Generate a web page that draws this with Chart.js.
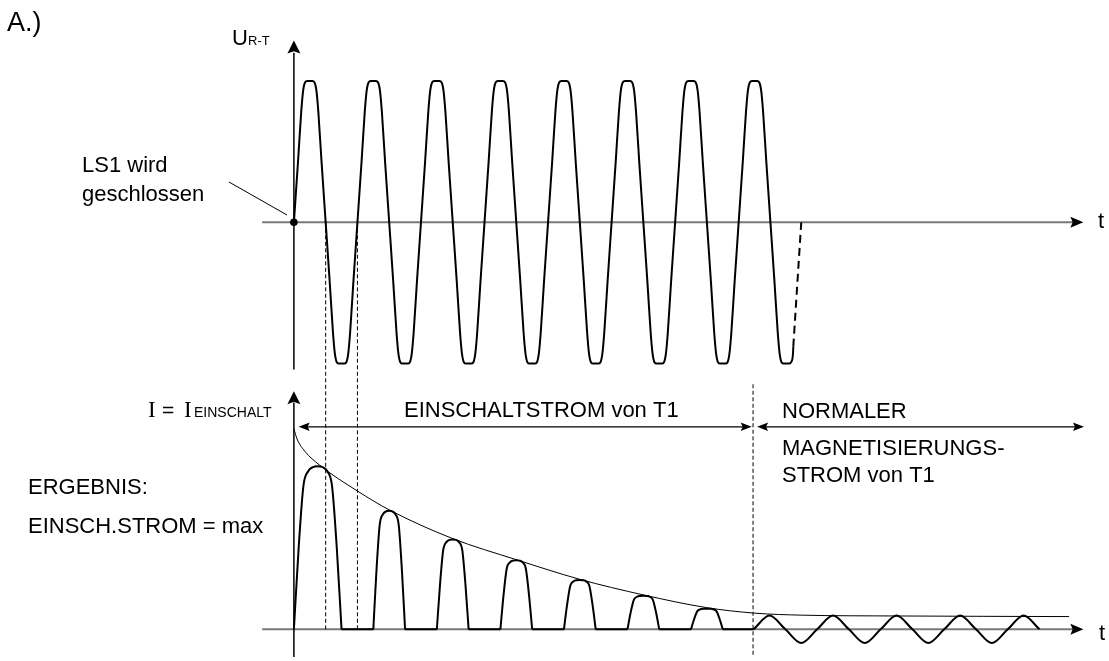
<!DOCTYPE html>
<html><head><meta charset="utf-8">
<script src="https://cdn.jsdelivr.net/npm/chart.js@4.4.1/dist/chart.umd.min.js"></script>
<style>html,body{margin:0;padding:0;background:#fff;overflow:hidden}#wrap{position:relative;width:1109px;height:661px}</style>
</head><body><div id="wrap"><canvas id="c" width="1109" height="661"></canvas></div>
<script>
// ================= data =================
// time in ms (one mains period = 20 ms), voltage in p.u., current in % of I_EINSCHALT

// upper trace U_R-T : zero crossings and sign/size of each half wave
const uZeroCrossings = [0, 10, 20, 30, 40, 50, 60, 70, 80, 90, 100, 110, 120, 130, 140, 150, 160];
const uHalfWavePeaks = [1, -1, 1, -1, 1, -1, 1, -1, 1, -1, 1, -1, 1, -1, 1, -1];
const uSolidEnd = 157.2;
const uTailT = [157.2, 159.7];          // dashed continuation
const uTailV = [-0.88, 0];
// flat-topped half wave as read from one period (ms after the crossing / level)
const waveRiseT = [0, 1.3, 2.3, 2.9, 3.5, 4.2];
const waveRiseLevel = [0, 0.43, 0.78, 0.93, 0.99, 1.0];

// lower trace: inrush current pulses
const pulseStart = [0, 25, 45, 65, 85, 105, 125];
const pulseEnd   = [15, 35, 55, 75, 95, 115, 135];
const pulsePeak  = [80.5, 58.5, 44.4, 34.1, 24.4, 16.6, 10.2];
const pulseShapeFrac  = [0, 0.1, 0.2, 0.3, 0.4, 0.5];
const pulseShapeLevel = [0, 0.5, 0.88, 0.97, 0.995, 1.0];

// decaying envelope
const envelopeT = [0, 1, 3.4, 8, 20, 30, 50, 70, 90, 110, 130, 145, 160, 190, 244];
const envelopeI = [99, 94, 88, 81.2, 68.3, 59, 44.8, 34.4, 24.7, 17, 10.7, 8.0, 7.0, 6.6, 6.3];

// normal magnetising current after the inrush
const magT = [144.7, 149.7, 154.7, 159.7, 164.7, 169.7, 174.7, 179.7, 184.7, 189.7,
              194.7, 199.7, 204.7, 209.7, 214.7, 219.7, 224.7, 229.7, 234.7];
const magI = [0, 6.8, 0, -6.8, 0, 6.8, 0, -6.8, 0, 6.8, 0, -6.8, 0, 6.8, 0, -6.8, 0, 6.8, 0];

// ================= build series =================
function buildVoltage() {
  const pts = [];
  for (let k = 0; k < uHalfWavePeaks.length; k++) {
    const s = uZeroCrossings[k], e = uZeroCrossings[k + 1], p = uHalfWavePeaks[k];
    for (let j = 0; j < waveRiseT.length; j++) pts.push({x: s + waveRiseT[j], y: p * waveRiseLevel[j]});
    for (let j = waveRiseT.length - 1; j >= 1; j--) pts.push({x: e - waveRiseT[j], y: p * waveRiseLevel[j]});
  }
  const solid = pts.filter(q => q.x <= uSolidEnd);
  solid.push({x: uTailT[0], y: uTailV[0]});
  return solid;
}
function buildPulses() {
  const pts = [];
  pulseStart.forEach((s, k) => {
    const e = pulseEnd[k], w = e - s, p = pulsePeak[k];
    for (let j = 0; j < pulseShapeFrac.length; j++) pts.push({x: s + pulseShapeFrac[j] * w, y: p * pulseShapeLevel[j]});
    for (let j = pulseShapeFrac.length - 2; j >= 0; j--) pts.push({x: e - pulseShapeFrac[j] * w, y: p * pulseShapeLevel[j]});
    pts.push({x: e + 0.01, y: null});
  });
  return pts;
}
function buildGaps() {
  const pts = [];
  for (let k = 0; k < pulseStart.length; k++) {
    const a = pulseEnd[k];
    const b = k + 1 < pulseStart.length ? pulseStart[k + 1] : magT[0];
    pts.push({x: a, y: 0}, {x: b, y: 0}, {x: b + 0.01, y: null});
  }
  return pts;
}
const zip = (xs, ys) => xs.map((x, i) => ({x, y: ys[i]}));

// ================= annotations (axes, arrows, text) =================
function head(ctx, x, y, ang, len, half) {
  ctx.save();
  ctx.translate(x, y); ctx.rotate(ang);
  ctx.beginPath();
  ctx.moveTo(0, 0);
  ctx.lineTo(-len, -half);
  ctx.lineTo(-len * 0.82, 0);
  ctx.lineTo(-len, half);
  ctx.closePath();
  ctx.fill();
  ctx.restore();
}
const axesPlugin = {
  id: 'axes',
  beforeDatasetsDraw(chart) {
    const {ctx} = chart, X = chart.scales.x, U = chart.scales.yU, I = chart.scales.yI;
    const px = v => X.getPixelForValue(v);
    ctx.save();
    ctx.fillStyle = '#000';
    // horizontal (grey) axes
    ctx.strokeStyle = '#7a7a7a'; ctx.lineWidth = 2;
    ctx.beginPath();
    ctx.moveTo(px(-10), U.getPixelForValue(0)); ctx.lineTo(px(246), U.getPixelForValue(0));
    ctx.moveTo(px(-10), I.getPixelForValue(0)); ctx.lineTo(px(246), I.getPixelForValue(0));
    ctx.stroke();
    head(ctx, px(248.5), U.getPixelForValue(0), 0, 13, 5.5);
    head(ctx, px(248.5), I.getPixelForValue(0), 0, 13, 5.5);
    // vertical axes
    ctx.strokeStyle = '#000'; ctx.lineWidth = 1.5;
    ctx.beginPath();
    ctx.moveTo(px(0), U.getPixelForValue(-1.042)); ctx.lineTo(px(0), U.getPixelForValue(1.2));
    ctx.moveTo(px(0), I.getPixelForValue(-13.6)); ctx.lineTo(px(0), I.getPixelForValue(112));
    ctx.stroke();
    head(ctx, px(0), U.getPixelForValue(1.287), -Math.PI / 2, 13, 6.5);
    head(ctx, px(0), I.getPixelForValue(117.6), -Math.PI / 2, 13, 6.5);
    // dashed guides
    ctx.setLineDash([4, 2.5]); ctx.lineWidth = 1;
    ctx.beginPath();
    [10, 20].forEach(t => {
      ctx.moveTo(px(t), U.getPixelForValue(0)); ctx.lineTo(px(t), I.getPixelForValue(0));
    });
    ctx.moveTo(px(144.53), I.getPixelForValue(121)); ctx.lineTo(px(144.53), I.getPixelForValue(-13.6));
    ctx.stroke();
    ctx.restore();
  },
  afterDatasetsDraw(chart) {
    const {ctx} = chart, X = chart.scales.x, I = chart.scales.yI;
    const px = v => X.getPixelForValue(v);
    ctx.save();
    ctx.fillStyle = '#000'; ctx.strokeStyle = '#000';
    // double arrows at I_EINSCHALT level
    const ya = I.getPixelForValue(100);
    ctx.lineWidth = 1.2;
    [[1.5, 144.1], [145.8, 248.7]].forEach(([a, b]) => {
      ctx.beginPath(); ctx.moveTo(px(a) + 6, ya); ctx.lineTo(px(b) - 6, ya); ctx.stroke();
      head(ctx, px(a), ya, Math.PI, 11, 4.2);
      head(ctx, px(b), ya, 0, 11, 4.2);
    });
    // leader line to switching point
    ctx.lineWidth = 1;
    ctx.beginPath(); ctx.moveTo(229, 182); ctx.lineTo(287, 215); ctx.stroke();
    // texts
    const sans = s => s + 'px "Liberation Sans", Arial, sans-serif';
    ctx.textBaseline = 'alphabetic'; ctx.textAlign = 'left';
    ctx.font = sans(27); ctx.fillText('A.)', 7, 31);
    ctx.font = sans(22);
    ctx.fillText('U', 232, 45);
    ctx.fillText('LS1 wird', 82, 172);
    ctx.fillText('geschlossen', 82, 201);
    ctx.fillText('t', 1098, 228);
    ctx.fillText('t', 1099, 640);
    ctx.fillText('ERGEBNIS:', 28, 494);
    ctx.fillText('EINSCH.STROM = max', 28, 533);
    ctx.fillText('EINSCHALTSTROM von T1', 404, 417);
    ctx.fillText('NORMALER', 782, 418);
    ctx.fillText('MAGNETISIERUNGS-', 782, 455);
    ctx.fillText('STROM von T1', 782, 482);
    ctx.font = sans(13); ctx.fillText('R-T', 248, 45);
    ctx.font = '23px "Liberation Serif", "Times New Roman", serif';
    ctx.fillText('I', 148, 417);
    ctx.fillText('I', 184, 417);
    ctx.font = sans(21); ctx.fillText('=', 162, 417);
    ctx.font = sans(14); ctx.fillText('EINSCHALT', 194, 417);
    ctx.restore();
  }
};

// ================= chart =================
const black = '#000';
new Chart(document.getElementById('c'), {
  type: 'line',
  data: {
    datasets: [
      {data: buildVoltage(), yAxisID: 'yU', borderColor: black, borderWidth: 2, cubicInterpolationMode: 'monotone', pointRadius: 0},
      {data: zip(uTailT, uTailV), yAxisID: 'yU', borderColor: black, borderWidth: 2, borderDash: [8, 5], pointRadius: 0, tension: 0},
      {data: [{x: 0, y: 0}], yAxisID: 'yU', showLine: false, pointRadius: 3.8, pointBackgroundColor: black, pointBorderColor: black, pointBorderWidth: 0},
      {data: buildPulses(), yAxisID: 'yI', borderColor: black, borderWidth: 2, cubicInterpolationMode: 'monotone', spanGaps: false, pointRadius: 0},
      {data: buildGaps(), yAxisID: 'yI', borderColor: black, borderWidth: 2, tension: 0, spanGaps: false, pointRadius: 0},
      {data: zip(envelopeT, envelopeI), yAxisID: 'yI', borderColor: black, borderWidth: 1, cubicInterpolationMode: 'monotone', pointRadius: 0},
      {data: zip(magT, magI), yAxisID: 'yI', borderColor: black, borderWidth: 2, cubicInterpolationMode: 'monotone', pointRadius: 0}
    ]
  },
  options: {
    responsive: false, animation: false, devicePixelRatio: 1, events: [],
    layout: {padding: 0},
    plugins: {legend: {display: false}, tooltip: {enabled: false}, title: {display: false}},
    scales: {
      x:  {type: 'linear', min: -91.25, max: 255.3125, display: false},
      yU: {type: 'linear', min: -3.07692, max: 1.54545, display: false},
      yI: {type: 'linear', min: -13.6585, max: 308.7805, display: false}
    }
  },
  plugins: [axesPlugin]
});
</script></body></html>
